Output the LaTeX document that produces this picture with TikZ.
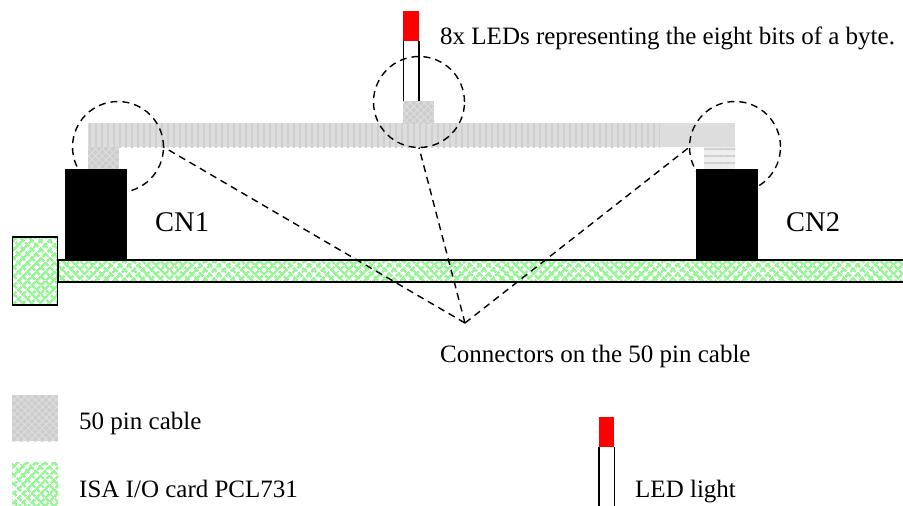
\documentclass[tikz,border=0pt]{standalone}
\usepackage{fontspec}
\setmainfont{Liberation Serif}
\usetikzlibrary{patterns.meta}
\definecolor{cablegray}{HTML}{DDDDDD}
\definecolor{cablemark}{HTML}{D0D0D0}
\definecolor{keygray}{HTML}{CDCDCD}
\definecolor{cardgreen}{HTML}{98F598}
\definecolor{ledred}{HTML}{FF0000}
\tikzset{block/.style = {shape = rectangle, inner sep = 0pt, outer sep = 0pt}}
\tikzset{cable/.style = {block, fill = cablegray, postaction = {pattern = {Lines[angle = 90, distance = 6pt, line width = 2pt]}, pattern color = cablemark}}}
\tikzset{cableplain/.style = {block, fill = cablegray}}
\tikzset{cablewave/.style = {block, fill = cablegray!50, postaction = {pattern = {Lines[angle = 0, distance = 7pt, line width = 2.5pt]}, pattern color = cablemark}}}
\tikzset{cabledots/.style = {block, fill = keygray, postaction = {pattern = {Lines[angle = 45, distance = 5pt, line width = 1pt]}, pattern color = cablegray}, postaction = {pattern = {Lines[angle = -45, distance = 5pt, line width = 1pt]}, pattern color = cablegray}}}
\tikzset{card/.style = {block, preaction = {fill = white}, preaction = {pattern = {Lines[angle = 45, distance = 6.4pt, line width = 2.6pt]}, pattern color = cardgreen}, preaction = {pattern = {Lines[angle = -45, distance = 6.4pt, line width = 2.6pt]}, pattern color = cardgreen}}}
\tikzset{connbox/.style = {block, fill = black}}
\tikzset{led/.style = {block, fill = ledred, minimum width = 15.5pt, minimum height = 30pt}}
\tikzset{ledleg/.style = {line width = 1.5pt}}
\tikzset{ring/.style = {shape = circle, draw, inner sep = 0pt, outer sep = 0pt, minimum size = 91pt, line width = 1.4pt, dash pattern = on 7pt off 5pt}}
\tikzset{pointer/.style = {-, line width = 1.4pt, dash pattern = on 7pt off 5pt}}
\tikzset{label/.style = {anchor = base west, inner sep = 0pt, font = \fontsize{25}{29}\selectfont}}
\tikzset{biglabel/.style = {anchor = base west, inner sep = 0pt, font = \fontsize{28.5}{32}\selectfont}}
\begin{document}
\begin{tikzpicture}[x = 1pt, y = -1pt]
	\useasboundingbox (0, 0) rectangle (903, 506);

	\node[cable, minimum width = 572pt, minimum height = 24pt] (cablemain) at (374, 135) {};
	\node[cableplain, minimum width = 75pt, minimum height = 24pt] (cableend) at (697.5, 135) {};
	\node[cabledots, minimum width = 31pt, minimum height = 23pt] (stubA) at (103.5, 158.5) {};
	\node[cablewave, minimum width = 31pt, minimum height = 23pt] (stubC) at (719.5, 158.5) {};
	\node[cabledots, minimum width = 31pt, minimum height = 23pt] (stubB) at (418.5, 112.5) {};

	\node[ring] (ringA) at (118, 147) {};
	\node[ring] (ringB) at (419, 102) {};
	\node[ring] (ringC) at (735, 147) {};

	\node[connbox, minimum width = 62pt, minimum height = 90pt] (cnA) at (96, 214) {};
	\node[connbox, minimum width = 62pt, minimum height = 90pt] (cnB) at (727, 214) {};

	\node[card, draw, line width = 1.5pt, minimum width = 846pt, minimum height = 22pt] (board) at (481, 271) {};
	\node[card, draw, line width = 1.5pt, minimum width = 45pt, minimum height = 68pt] (bracket) at (35, 271) {};

	\node[led] (ledtop) at (411, 26) {};
	\draw[ledleg] (ledtop.south west) -- (ledtop.south west |- stubB.north);
	\draw[ledleg] (ledtop.south east) -- (ledtop.south east |- stubB.north);

	\coordinate (apex) at (465, 323);
	\draw[pointer] (apex) -- (ringA.east);
	\draw[pointer] (apex) -- (ringB.south);
	\draw[pointer] (apex) -- (ringC.west);

	\node[biglabel] (nameA) at (155, 231) {CN1};
	\node[biglabel] (nameB) at (786, 231) {CN2};
	\node[label] (ledtext) at (440, 44) {8x LEDs representing the eight bits of a byte.};
	\node[label] (pintext) at (440, 362) {Connectors on the 50 pin cable};

	\node[cabledots, minimum width = 46pt, minimum height = 46pt] (keyA) at (35, 418) {};
	\node[card, minimum width = 46pt, minimum height = 44pt] (keyB) at (35, 484) {};
	\node[label] (keytextA) at (79, 429) {50 pin cable};
	\node[label] (keytextB) at (79, 497) {ISA I/O card PCL731};

	\node[led] (ledkey) at (606.5, 432) {};
	\coordinate (keyend) at (606.5, 506);
	\draw[ledleg] (ledkey.south west) -- (ledkey.south west |- keyend);
	\draw[ledleg] (ledkey.south east) -- (ledkey.south east |- keyend);
	\node[label] (keytextC) at (635, 497) {LED light};
\end{tikzpicture}
\end{document}
